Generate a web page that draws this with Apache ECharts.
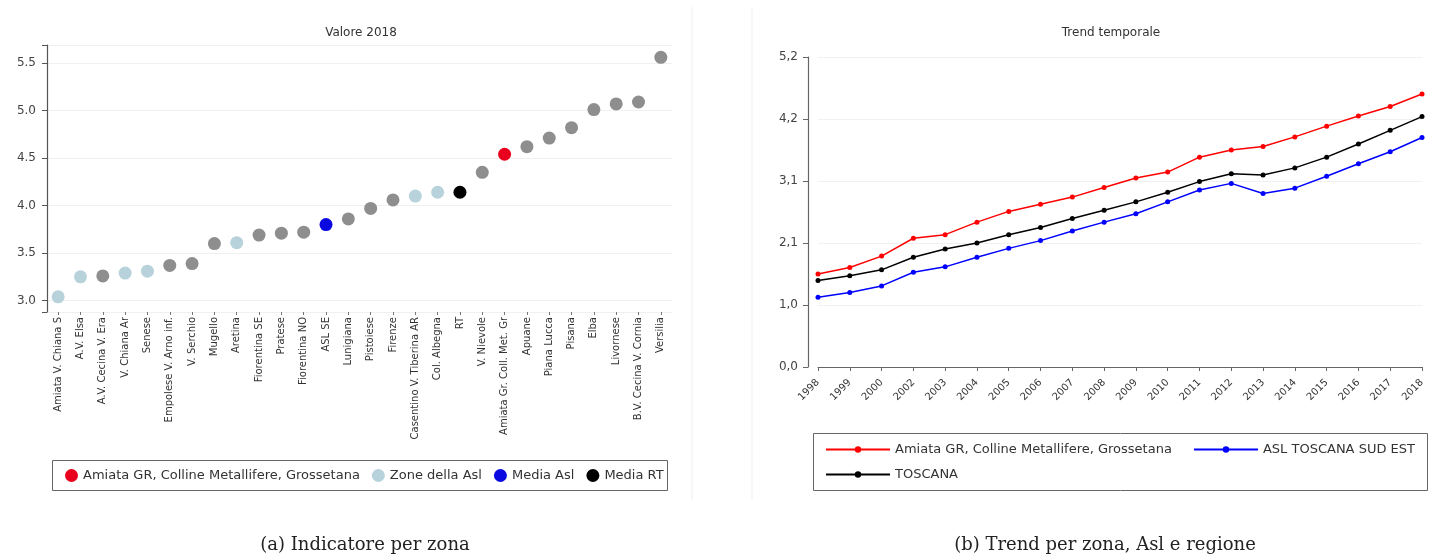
<!DOCTYPE html>
<html>
<head>
<meta charset="utf-8">
<script src="https://cdn.jsdelivr.net/npm/echarts@6/dist/echarts.min.js"></script>
<style>
html,body{margin:0;padding:0;background:#fff;}
#chart{width:1435px;height:554px;}
</style>
</head>
<body>
<div id="chart"></div>
<script>
// ---- Left panel: Valore 2018 ----
const zoneNames = [
  'Amiata V. Chiana S', 'A.V. Elsa', 'A.V. Cecina V. Era', 'V. Chiana Ar', 'Senese',
  'Empolese V. Arno inf.', 'V. Serchio', 'Mugello', 'Aretina', 'Fiorentina SE',
  'Pratese', 'Fiorentina NO', 'ASL SE', 'Lunigiana', 'Pistoiese',
  'Firenze', 'Casentino V. Tiberina AR', 'Col. Albegna', 'RT', 'V. Nievole',
  'Amiata Gr. Coll. Met. Gr', 'Apuane', 'Piana Lucca', 'Pisana', 'Elba',
  'Livornese', 'B.V. Cecina V. Cornia', 'Versilia'
];
const zoneValues = [
  3.04, 3.25, 3.26, 3.29, 3.31,
  3.37, 3.39, 3.60, 3.61, 3.69,
  3.71, 3.72, 3.80, 3.86, 3.97,
  4.06, 4.10, 4.14, 4.14, 4.35,
  4.54, 4.62, 4.71, 4.82, 5.01,
  5.07, 5.09, 5.56
];
// group: 'sel' = selected zone, 'zone' = zones of the Asl, 'asl' = Asl mean, 'rt' = region mean, 'other' = other zones
const zoneGroups = [
  'zone', 'zone', 'other', 'zone', 'zone',
  'other', 'other', 'other', 'zone', 'other',
  'other', 'other', 'asl', 'other', 'other',
  'other', 'zone', 'zone', 'rt', 'other',
  'sel', 'other', 'other', 'other', 'other',
  'other', 'other', 'other'
];
const leftLegendNames = ['Amiata GR, Colline Metallifere, Grossetana', 'Zone della Asl', 'Media Asl', 'Media RT'];

// ---- Right panel: Trend temporale ----
const years = ['1998','1999','2000','2002','2003','2004','2005','2006','2007','2008',
               '2009','2010','2011','2012','2013','2014','2015','2016','2017','2018'];
const amiataTrend  = [1.56, 1.67, 1.86, 2.16, 2.22, 2.43, 2.61, 2.73, 2.85, 3.01,
                      3.17, 3.27, 3.52, 3.64, 3.70, 3.86, 4.04, 4.21, 4.37, 4.58];
const aslTrend     = [1.17, 1.25, 1.36, 1.59, 1.68, 1.84, 1.99, 2.12, 2.28, 2.43,
                      2.57, 2.77, 2.97, 3.08, 2.91, 3.00, 3.20, 3.41, 3.61, 3.85];
const toscanaTrend = [1.45, 1.53, 1.63, 1.84, 1.98, 2.08, 2.22, 2.34, 2.49, 2.63,
                      2.77, 2.93, 3.11, 3.24, 3.22, 3.34, 3.52, 3.74, 3.97, 4.20];
// trailing space keeps the line series distinct from the scatter series of the same label
const rightSeriesNames = ['Amiata GR, Colline Metallifere, Grossetana ', 'ASL TOSCANA SUD EST', 'TOSCANA'];

const FONT = 'DejaVu Sans';
const groupStyle = {
  other: {name: 'Altre zone', color: '#8e8e8e'},
  sel:   {name: leftLegendNames[0], color: '#e8001c'},
  zone:  {name: leftLegendNames[1], color: '#b8d2db'},
  asl:   {name: leftLegendNames[2], color: '#0a0ae0'},
  rt:    {name: leftLegendNames[3], color: '#000000'}
};
const leftSeries = ['other', 'sel', 'zone', 'asl', 'rt'].map(g => ({
  name: groupStyle[g].name,
  type: 'scatter',
  xAxisIndex: 0, yAxisIndex: 0,
  symbol: 'circle',
  symbolSize: 13,
  itemStyle: {color: groupStyle[g].color, opacity: 1},
  data: zoneValues.map((v, i) => zoneGroups[i] === g ? [i, v] : null).filter(d => d)
}));

const rightColors = ['#ff0000', '#0000ff', '#000000'];
const rightData = [amiataTrend, aslTrend, toscanaTrend];
const rightSeries = rightSeriesNames.map((n, k) => ({
  name: n,
  type: 'line',
  xAxisIndex: 1, yAxisIndex: 1,
  symbol: 'circle',
  symbolSize: 5,
  lineStyle: {color: rightColors[k], width: 1.5},
  itemStyle: {color: rightColors[k]},
  data: rightData[k]
}));

const chart = echarts.init(document.getElementById('chart'), null, {renderer: 'canvas'});
chart.setOption({
  animation: false,
  backgroundColor: '#ffffff',
  textStyle: {fontFamily: FONT},
  title: [
    {text: 'Valore 2018', left: 356, top: 22, textAlign: 'center',
     textStyle: {fontSize: 12, fontWeight: 'normal', color: '#333', fontFamily: FONT}},
    {text: 'Trend temporale', left: 1106, top: 22, textAlign: 'center',
     textStyle: {fontSize: 12, fontWeight: 'normal', color: '#333', fontFamily: FONT}},
    {text: '(a) Indicatore per zona', left: 360, top: 531, textAlign: 'center',
     textStyle: {fontSize: 18, fontWeight: 'normal', color: '#222', fontFamily: 'DejaVu Serif'}},
    {text: '(b) Trend per zona, Asl e regione', left: 1100, top: 531, textAlign: 'center',
     textStyle: {fontSize: 18, fontWeight: 'normal', color: '#222', fontFamily: 'DejaVu Serif'}}
  ],
  legend: [
    {data: leftLegendNames, left: 60, top: 464, icon: 'circle', itemWidth: 13, itemHeight: 13,
     itemGap: 12, textStyle: {fontSize: 13, color: '#333', fontFamily: FONT}},
    {data: rightSeriesNames.slice(0, 2), left: 820, top: 438, itemWidth: 64, itemHeight: 8,
     itemGap: 17, textStyle: {fontSize: 13, color: '#333', fontFamily: FONT}},
    {data: rightSeriesNames.slice(2), left: 820, top: 463, itemWidth: 64, itemHeight: 8,
     textStyle: {fontSize: 13, color: '#333', fontFamily: FONT}}
  ],
  grid: [
    {left: 47, top: 45, width: 625, height: 267},
    {left: 818, top: 57, width: 604, height: 310}
  ],
  xAxis: [
    {gridIndex: 0, type: 'category', data: zoneNames,
     axisLine: {show: false},
     axisTick: {show: true, alignWithLabel: true, length: 3, lineStyle: {color: '#777'}},
     axisLabel: {rotate: 90, interval: 0, fontSize: 10, color: '#333', margin: 5, fontFamily: FONT},
     splitLine: {show: false}},
    {gridIndex: 1, type: 'category', data: years, boundaryGap: false, offset: 9,
     axisLine: {show: true, lineStyle: {color: '#666', width: 1.2}},
     axisTick: {show: true, alignWithLabel: true, length: 4, lineStyle: {color: '#666'}},
     axisLabel: {rotate: 45, interval: 0, fontSize: 10, color: '#333', margin: 5, fontFamily: FONT},
     splitLine: {show: false}}
  ],
  yAxis: [
    {gridIndex: 0, type: 'value', min: 2.88, max: 5.69, splitNumber: 5,
     axisLine: {show: true, lineStyle: {color: '#555', width: 1.2}},
     axisTick: {show: true, length: 5, lineStyle: {color: '#555'}},
     axisLabel: {fontSize: 12, color: '#444', margin: 11, fontFamily: FONT,
       formatter: v => (Math.abs(v * 2 - Math.round(v * 2)) < 1e-6 ? v.toFixed(1) : '')},
     splitLine: {show: true, lineStyle: {color: '#f0f0f0', width: 1}}},
    {gridIndex: 1, type: 'value', min: 0, max: 5.2, interval: 1.04, offset: 10,
     axisLine: {show: true, lineStyle: {color: '#666', width: 1.2}},
     axisTick: {show: true, length: 5, lineStyle: {color: '#666'}},
     axisLabel: {fontSize: 12, color: '#444', margin: 10, fontFamily: FONT,
       formatter: v => v.toFixed(1).replace('.', ',')},
     splitLine: {show: true, lineStyle: {color: '#f0f0f0', width: 1}}}
  ],
  graphic: [
    {type: 'rect', shape: {x: 52.5, y: 460.5, width: 615, height: 30},
     style: {fill: 'none', stroke: '#666', lineWidth: 1}, silent: true},
    {type: 'rect', shape: {x: 813.5, y: 433.5, width: 614, height: 57},
     style: {fill: 'none', stroke: '#666', lineWidth: 1}, silent: true},
    {type: 'line', shape: {x1: 692, y1: 7, x2: 692, y2: 500},
     style: {stroke: '#efefef', lineWidth: 1}, silent: true},
    {type: 'line', shape: {x1: 752, y1: 7, x2: 752, y2: 500},
     style: {stroke: '#efefef', lineWidth: 1}, silent: true}
  ],
  series: leftSeries.concat(rightSeries)
});
</script>
</body>
</html>
